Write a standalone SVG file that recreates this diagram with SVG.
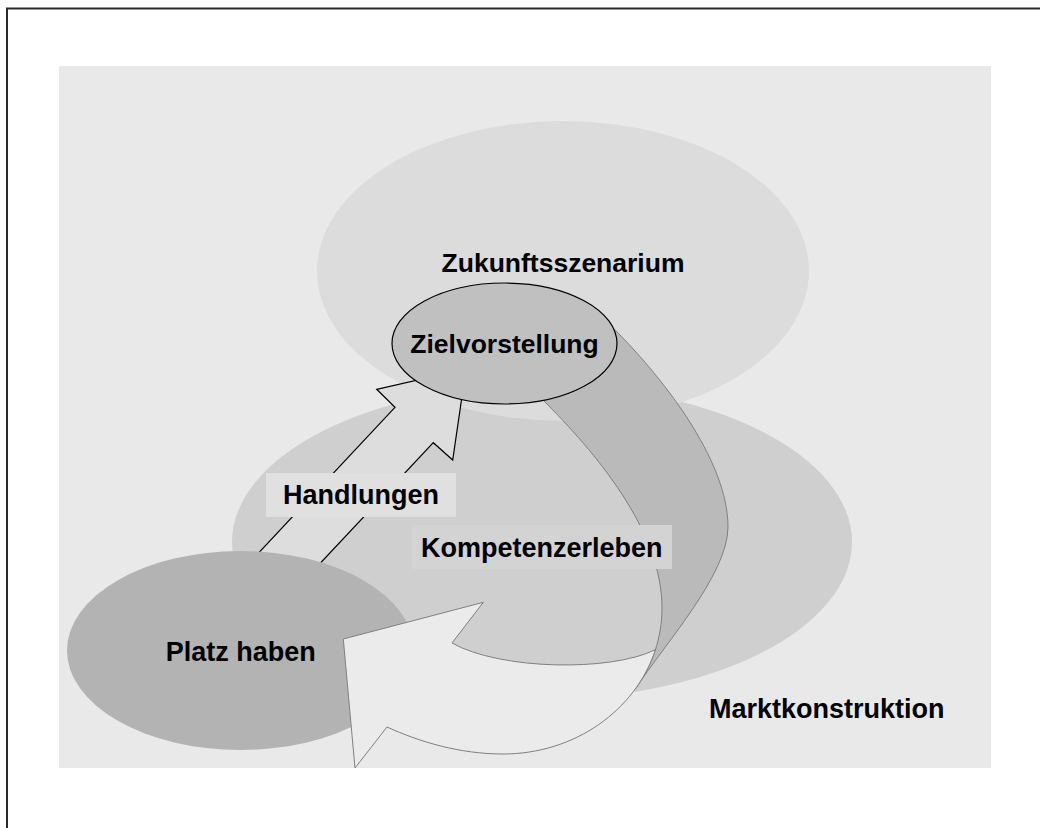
<svg xmlns="http://www.w3.org/2000/svg" width="1040" height="828" viewBox="0 0 1040 828">
<style>
.t{font-family:"Liberation Sans",Arial,sans-serif;font-weight:bold;font-size:27px;fill:#000}
.band{stroke:#808080;stroke-width:1}
</style>
<rect x="0" y="0" width="1040" height="828" fill="#fff"/>
<rect id="frame" x="7" y="8.5" width="1100" height="900" fill="none" stroke="#2a2a2a" stroke-width="2"/>
<rect id="background" x="59" y="66" width="932" height="702" fill="#e9e9e9"/>
<g id="markt">
<ellipse cx="542" cy="542" rx="310" ry="157" fill="#cfcfcf"/>
</g>
<g id="zukunft">
<ellipse cx="563" cy="271" rx="246" ry="150" fill="#dcdcdc"/>
</g>
<g id="connectors">
<polygon id="handlungen-arrow" points="214.5,600 395,407.3 376.7,389.3 466,369 452.7,460 433.3,442.7 276.4,610" fill="#dddddd" stroke="#000" stroke-width="1.2" stroke-linejoin="miter"/>
</g>
<g id="platz">
<ellipse cx="240.5" cy="650.5" rx="173.5" ry="99.5" fill="#b3b3b3"/>
</g>
<g id="loop-arrow">
<path class="band" fill="#bababa" d="M540,380 L605,320 C662,375 728,460 728,527 C728,575 663,646 635.6,688.6 C652.3,665.5 662,637.8 662,608 C662,530 595,452 543,400 Z"/>
<path class="band" fill="#ebebeb" d="M452,643 C500,670 610,672 655.4,649.7 C635.8,710 575,754 503,754 C460,754 420,742 387,727 L355,768 L343.3,639 L483.3,602.3 Z"/>
</g>
<g id="ziel">
<ellipse cx="504.5" cy="343.5" rx="112.5" ry="60.5" fill="#c0c0c0" stroke="#000" stroke-width="1.2"/>
<text class="t" x="504.5" y="353" text-anchor="middle" style="font-size:26.5px">Zielvorstellung</text>
</g>
<g id="zukunft-label">
<text class="t" x="563" y="272" text-anchor="middle" style="font-size:26.5px">Zukunftsszenarium</text>
</g>
<g id="handlungen-label">
<rect x="266" y="473" width="190" height="44" fill="#e0e0e0"/>
<text class="t" x="361" y="504" text-anchor="middle">Handlungen</text>
</g>
<g id="kompetenz-label">
<rect x="412" y="525" width="260" height="44" fill="#d3d3d3"/>
<text class="t" x="421" y="556.7">Kompetenzerleben</text>
</g>
<g id="platz-label">
<text class="t" x="240.7" y="660.7" text-anchor="middle">Platz haben</text>
</g>
<g id="markt-label">
<text class="t" x="826.7" y="718" text-anchor="middle">Marktkonstruktion</text>
</g>
</svg>
